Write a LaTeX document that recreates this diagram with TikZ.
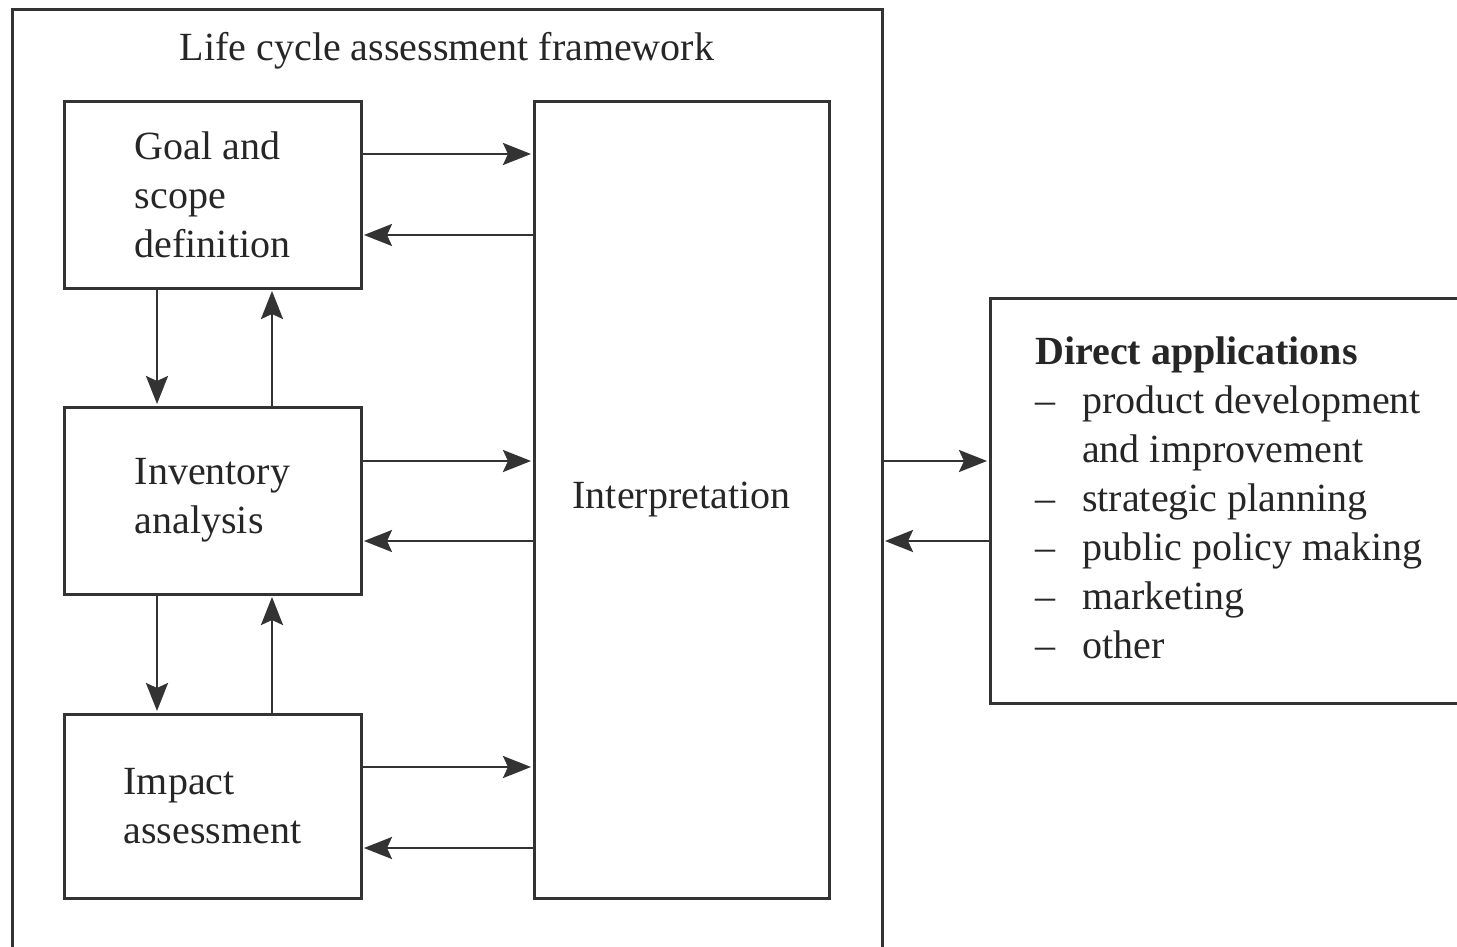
\documentclass[tikz,border=0pt]{standalone}
\usepackage{fontspec}
\setmainfont{Liberation Serif}
\usetikzlibrary{arrows.meta}
\definecolor{ink}{HTML}{262626}
\definecolor{linec}{HTML}{333333}
\begin{document}
\begin{tikzpicture}[x=1pt,y=-1pt,
  box/.style={draw=linec, line width=3pt, inner sep=0pt, outer sep=0pt, anchor=north west,
    align=left, text=ink, font=\fontsize{40}{49}\selectfont},
  arr/.style={draw=linec, line width=2.8pt, -{Stealth[length=28pt,width=22pt,inset=5pt]}, shorten >=3pt},
  txt/.style={text=ink, inner sep=0pt, font=\fontsize{40}{49}\selectfont}]
\useasboundingbox (0,0) rectangle (1457,947);
\clip (0,0) rectangle (1457,947);
\node[box, minimum width=870pt, minimum height=980pt] (outer) at (12,10) {};
\node[txt] (title) at (447,51) {Life cycle assessment framework};
\node[box, minimum width=297pt, minimum height=186pt] (goal) at (64,102) {Goal and\\scope\\definition};
\node[box, minimum width=297pt, minimum height=187pt] (inv) at (64,407) {Inventory\\analysis};
\node[box, minimum width=297pt, minimum height=184pt] (imp) at (64,714) {Impact\\assessment};
\node[box, minimum width=295pt, minimum height=796pt, align=center] (interp) at (534,102) {Interpretation};
\node[box, minimum width=490pt, minimum height=405pt] (direct) at (990,298) {};
\node[txt, anchor=north west, align=left] (apps) at (1035,337)
 {\textbf{Direct applications}\\
  \makebox[47pt][l]{–}product development\\
  \hspace*{47pt}and improvement\\
  \makebox[47pt][l]{–}strategic planning\\
  \makebox[47pt][l]{–}public policy making\\
  \makebox[47pt][l]{–}marketing\\
  \makebox[47pt][l]{–}other};
% goal <-> interpretation
\draw[arr] ([yshift=-52pt]goal.north east) -- ([yshift=-52pt]interp.north west);
\draw[arr] ([yshift=-133pt]interp.north west) -- ([yshift=-133pt]goal.north east);
% inventory <-> interpretation
\draw[arr] ([yshift=-54pt]inv.north east) -- ([yshift=-54pt]interp.north west |- inv.north east);
\draw[arr] ([yshift=-134pt]interp.north west |- inv.north east) -- ([yshift=-134pt]inv.north east);
% impact <-> interpretation
\draw[arr] ([yshift=-53pt]imp.north east) -- ([yshift=-53pt]interp.north west |- imp.north east);
\draw[arr] ([yshift=-134pt]interp.north west |- imp.north east) -- ([yshift=-134pt]imp.north east);
% vertical
\draw[arr] ([xshift=93pt]goal.south west) -- ([xshift=93pt]inv.north west);
\draw[arr] ([xshift=208pt]inv.north west) -- ([xshift=208pt]goal.south west);
\draw[arr] ([xshift=93pt]inv.south west) -- ([xshift=93pt]imp.north west);
\draw[arr] ([xshift=208pt]imp.north west) -- ([xshift=208pt]inv.south west);
% outer <-> direct
\draw[arr] ([yshift=-163pt]outer.north east |- direct.north west) -- ([yshift=-163pt]direct.north west);
\draw[arr] ([yshift=-243pt]direct.north west) -- ([yshift=-243pt]outer.north east |- direct.north west);
\end{tikzpicture}
\end{document}
